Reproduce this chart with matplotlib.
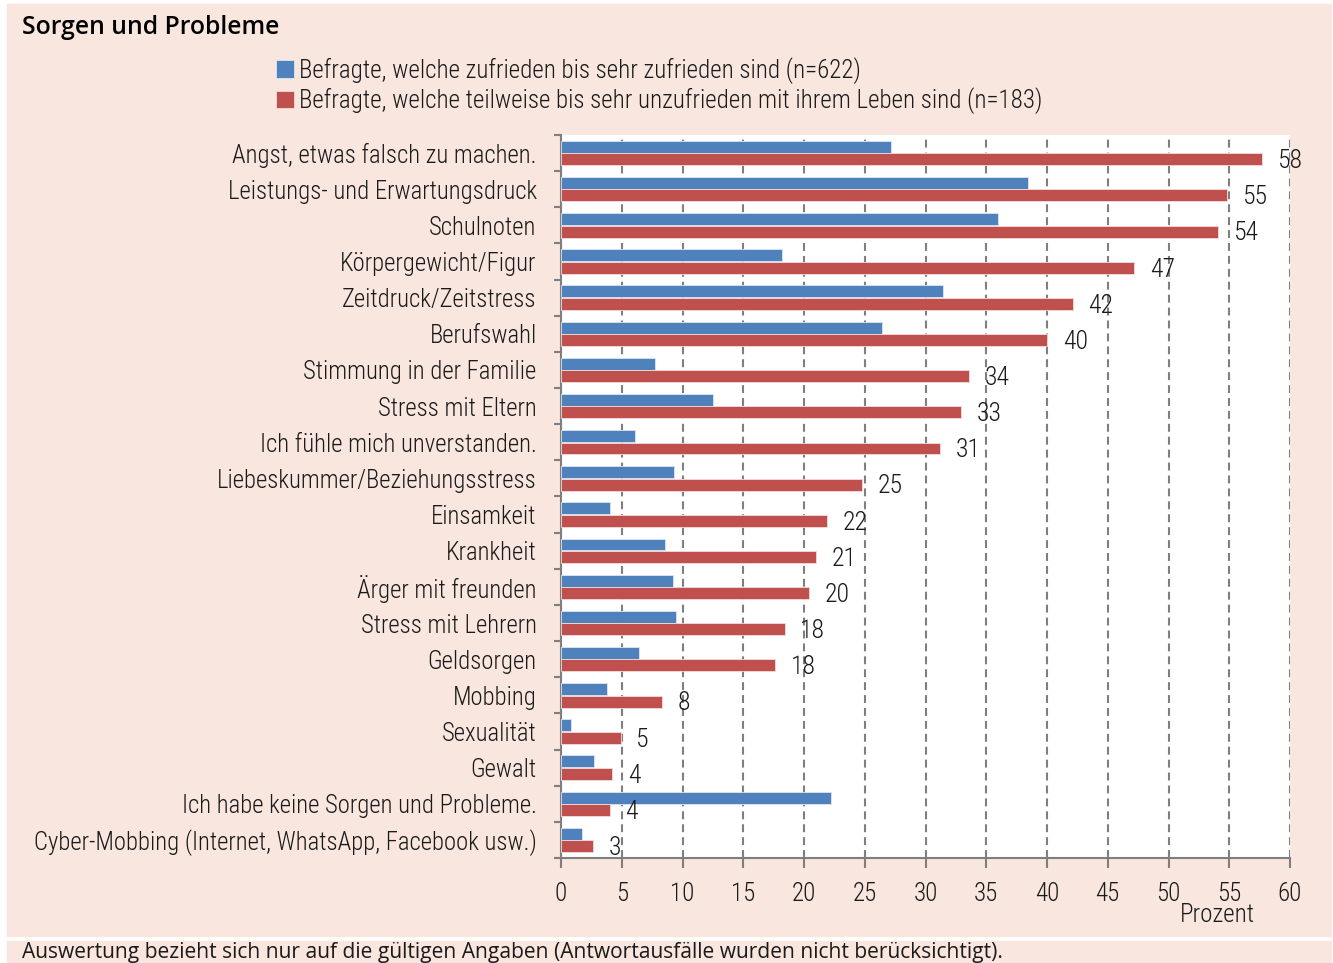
import matplotlib
matplotlib.use("Agg")
import matplotlib.pyplot as plt
from matplotlib import font_manager
from matplotlib.patches import Rectangle

categories = [
    "Angst, etwas falsch zu machen.",
    "Leistungs- und Erwartungsdruck",
    "Schulnoten",
    "Körpergewicht/Figur",
    "Zeitdruck/Zeitstress",
    "Berufswahl",
    "Stimmung in der Familie",
    "Stress mit Eltern",
    "Ich fühle mich unverstanden.",
    "Liebeskummer/Beziehungsstress",
    "Einsamkeit",
    "Krankheit",
    "Ärger mit freunden",
    "Stress mit Lehrern",
    "Geldsorgen",
    "Mobbing",
    "Sexualität",
    "Gewalt",
    "Ich habe keine Sorgen und Probleme.",
    "Cyber-Mobbing (Internet, WhatsApp, Facebook usw.)",
]
zufrieden = [27.2, 38.4, 36.0, 18.2, 31.4, 26.4, 7.7, 12.5, 6.1, 9.3,
             4.0, 8.6, 9.2, 9.5, 6.4, 3.8, 0.8, 2.7, 22.2, 1.7]
unzufrieden = [57.7, 54.8, 54.1, 47.2, 42.1, 40.0, 33.6, 32.9, 31.2, 24.8,
               21.9, 21.0, 20.4, 18.4, 17.6, 8.3, 4.9, 4.2, 4.0, 2.6]
label_zuf = "Befragte, welche zufrieden bis sehr zufrieden sind (n=622)"
label_unz = "Befragte, welche teilweise bis sehr unzufrieden mit ihrem Leben sind (n=183)"
xticks = list(range(0, 65, 5))

installed = {f.name for f in font_manager.fontManager.ttflist}
narrow = next((f for f in ["Roboto Condensed", "Liberation Sans Narrow",
                           "Open Sans Condensed", "DejaVu Sans Condensed"]
               if f in installed), "DejaVu Sans")
plt.rcParams["font.family"] = [narrow, "DejaVu Sans"]
plt.rcParams["font.weight"] = 300

BLUE = "#4F81BD"
RED = "#C0504D"
PEACH = "#F8E6DF"
GRID = "#7F7F7F"
TXT = "#1A1A1A"
FS = 18

W, H = 1333, 963
fig = plt.figure(figsize=(W / 100, H / 100), dpi=100, facecolor="white")

# peach panels (main box + footnote strip)
fig.add_artist(Rectangle((7 / W, 1 - 936 / H), 1324 / W, 932 / H,
                         transform=fig.transFigure, color=PEACH, zorder=0))
fig.add_artist(Rectangle((7 / W, 0), 1324 / W, 1 - 941 / H,
                         transform=fig.transFigure, color=PEACH, zorder=0))

ax = fig.add_axes([561 / W, 1 - 858 / H, (1290 - 561) / W, (858 - 135) / H])
ax.set_facecolor("white")

y = list(range(len(categories)))
off, h = 0.172, 0.33
b1 = ax.barh([v - off for v in y], zufrieden, height=h, color=BLUE,
             edgecolor="#DCE6F2", linewidth=0.6, zorder=3, label=label_zuf)
b2 = ax.barh([v + off for v in y], unzufrieden, height=h, color=RED,
             edgecolor="#F2DCDB", linewidth=0.6, zorder=3, label=label_unz)

for yy, v in zip(y, unzufrieden):
    ax.text(v + 1.3, yy + off + 0.05, f"{v:.0f}", ha="left", va="center",
            fontsize=FS + 0.5, color=TXT, zorder=4)

ax.set_xlim(0, 60)
ax.set_ylim(len(categories) - 0.5, -0.5)
ax.set_xticks(xticks)
ax.set_yticks(y)
ax.set_yticklabels(categories)
ax.set_yticks([v - 0.5 for v in y] + [len(y) - 0.5], minor=True)
ax.tick_params(axis="y", which="major", length=0, pad=17.5, labelsize=17.8,
               labelcolor=TXT)
ax.tick_params(axis="y", which="minor", length=5, width=1.5, color=GRID)
ax.tick_params(axis="x", length=7, width=1.5, color=GRID, pad=10,
               labelsize=FS, labelcolor=TXT)

ax.grid(axis="x", color=GRID, linestyle=(0, (3.8, 2.4)), linewidth=1.5,
        zorder=1)
ax.set_axisbelow(True)
for side in ["top", "right"]:
    ax.spines[side].set_visible(False)
for side in ["left", "bottom"]:
    ax.spines[side].set_color(GRID)
    ax.spines[side].set_linewidth(1.5)

fig.text(1217 / W, 1 - 915 / H, "Prozent", ha="center", va="center",
         fontsize=FS, color=TXT)

fig.text(22 / W, 1 - 27 / H, "Sorgen und Probleme", ha="left", va="center",
         fontsize=17.8, fontweight="semibold", color="black",
         family=["Open Sans", "DejaVu Sans"])

fig.legend(handles=[b1, b2], labels=[label_zuf, label_unz], loc="upper left",
           bbox_to_anchor=(276 / W, 1 - 57 / H), frameon=False,
           handlelength=0.72, handleheight=0.72, handletextpad=0.2,
           labelspacing=0.15, borderpad=0, borderaxespad=0,
           fontsize=18, labelcolor=TXT)

fig.text(22 / W, 1 - 942 / H,
         "Auswertung bezieht sich nur auf die gültigen Angaben "
         "(Antwortausfälle wurden nicht berücksichtigt).",
         ha="left", va="top", fontsize=15.1, fontweight="normal", color=TXT,
         family=["Open Sans", "DejaVu Sans"])

fig.savefig("out.png", dpi=100, facecolor="white")
